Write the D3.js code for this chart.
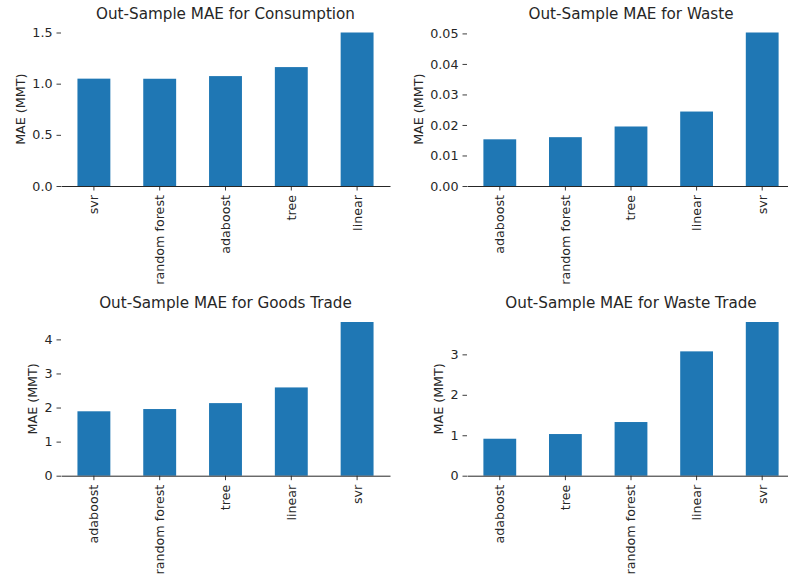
<!DOCTYPE html>
<html>
<head>
<meta charset="utf-8">
<script src="https://cdn.jsdelivr.net/npm/d3@7"></script>
<style>
  html, body { margin: 0; padding: 0; background: #fff; }
  svg { display: block; font-family: "DejaVu Sans", sans-serif; }
</style>
</head>
<body>
<svg id="chart" width="788" height="580"></svg>
<script>
// Out-of-sample mean absolute error per model, one panel per target
const consumptionModels = ["svr", "random forest", "adaboost", "tree", "linear"];
const consumptionMAE    = [1.049, 1.048, 1.074, 1.162, 1.50];
const consumptionTicks  = [0.0, 0.5, 1.0, 1.5];

const wasteModels = ["adaboost", "random forest", "tree", "linear", "svr"];
const wasteMAE    = [0.0153, 0.0160, 0.0195, 0.0244, 0.0503];
const wasteTicks  = [0.00, 0.01, 0.02, 0.03, 0.04, 0.05];

const goodsTradeModels = ["adaboost", "random forest", "tree", "linear", "svr"];
const goodsTradeMAE    = [1.89, 1.956, 2.13, 2.59, 4.51];
const goodsTradeTicks  = [0, 1, 2, 3, 4];

const wasteTradeModels = ["adaboost", "tree", "random forest", "linear", "svr"];
const wasteTradeMAE    = [0.914, 1.03, 1.327, 3.074, 3.80];
const wasteTradeTicks  = [0, 1, 2, 3];

const panelTitles = [
  "Out-Sample MAE for Consumption",
  "Out-Sample MAE for Waste",
  "Out-Sample MAE for Goods Trade",
  "Out-Sample MAE for Waste Trade"
];
const yLabel = "MAE (MMT)";

const svg = d3.select("#chart");
const barColor = "#1f77b4";
const ink = "#262626";
const tickFont = "12.7px";
const titleFont = "15.2px";

function drawPanel(o) {
  const g = svg.append("g");
  const x = d3.scaleBand().domain(o.cats).range([o.left, o.right])
    .paddingInner(0.5).paddingOuter(0.25);
  const y = d3.scaleLinear().domain([0, d3.max(o.vals)]).range([o.bottom, o.top]);

  // bars
  g.selectAll("rect.bar").data(o.cats.map((c, i) => ({c, v: o.vals[i]})))
    .enter().append("rect")
    .attr("class", "bar")
    .attr("x", d => x(d.c))
    .attr("width", x.bandwidth())
    .attr("y", d => y(d.v))
    .attr("height", d => y(0) - y(d.v))
    .attr("fill", barColor);

  // y axis: ticks and labels only, no spine
  const yAxis = d3.axisLeft(y).tickValues(o.ticks).tickFormat(o.fmt)
    .tickSize(4.5).tickPadding(4);
  const ya = g.append("g").attr("transform", `translate(${o.left},0)`).call(yAxis);
  ya.select(".domain").remove();
  ya.selectAll(".tick line").attr("stroke", ink).attr("stroke-width", 0.9);
  ya.selectAll(".tick text").attr("fill", ink).style("font-size", tickFont)
    .style("font-family", "'DejaVu Sans', sans-serif");

  // x axis: bottom spine with rotated category labels
  const xAxis = d3.axisBottom(x).tickSizeInner(4.5).tickSizeOuter(0).tickPadding(4);
  const xa = g.append("g").attr("transform", `translate(0,${o.bottom})`).call(xAxis);
  xa.select(".domain").attr("stroke", ink).attr("stroke-width", 1);
  xa.selectAll(".tick line").attr("stroke", ink).attr("stroke-width", 0.9);
  xa.selectAll(".tick text")
    .attr("fill", ink).style("font-size", tickFont)
    .style("font-family", "'DejaVu Sans', sans-serif")
    .attr("transform", "rotate(-90)")
    .attr("text-anchor", "end")
    .attr("x", -9).attr("y", 0).attr("dy", "0.35em");

  // title
  g.append("text")
    .attr("x", (o.left + o.right) / 2).attr("y", o.top - 14)
    .attr("text-anchor", "middle")
    .attr("fill", ink).style("font-size", titleFont)
    .text(o.title);

  // y label
  g.append("text")
    .attr("transform", `translate(${o.ylx},${(o.top + o.bottom) / 2}) rotate(-90)`)
    .attr("text-anchor", "middle")
    .attr("dominant-baseline", "central")
    .attr("fill", ink).style("font-size", tickFont)
    .text(yLabel);
}

const fmt1 = d3.format(".1f"), fmt2 = d3.format(".2f"), fmt0 = d3.format("d");

drawPanel({cats: consumptionModels, vals: consumptionMAE, ticks: consumptionTicks, fmt: fmt1,
  title: panelTitles[0], left: 61, right: 390, top: 32.5, bottom: 186, ylx: 20});
drawPanel({cats: wasteModels, vals: wasteMAE, ticks: wasteTicks, fmt: fmt2,
  title: panelTitles[1], left: 467, right: 795, top: 32.5, bottom: 186, ylx: 418});
drawPanel({cats: goodsTradeModels, vals: goodsTradeMAE, ticks: goodsTradeTicks, fmt: fmt0,
  title: panelTitles[2], left: 61, right: 390, top: 322, bottom: 475.7, ylx: 32});
drawPanel({cats: wasteTradeModels, vals: wasteTradeMAE, ticks: wasteTradeTicks, fmt: fmt0,
  title: panelTitles[3], left: 467, right: 795, top: 322, bottom: 475.7, ylx: 438});
</script>
</body>
</html>
